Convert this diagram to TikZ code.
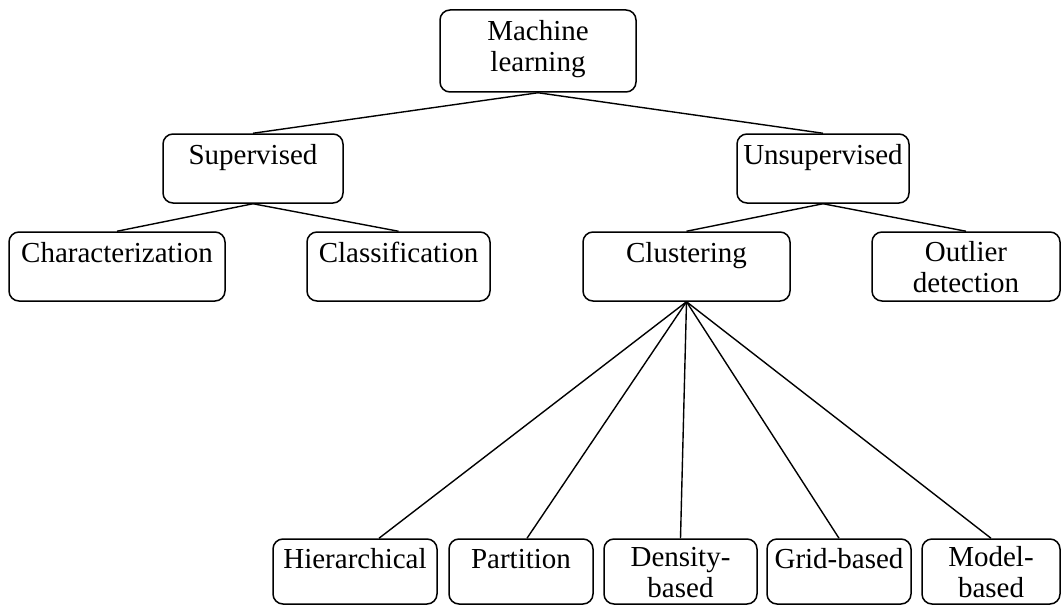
\documentclass[tikz,border=0pt]{standalone}
\usepackage{fontspec}
\setmainfont{Liberation Serif}
\usetikzlibrary{calc}
\newcommand\mybox[7]{%
  \node[box, minimum width=#4pt, minimum height=#5pt] (#1) at (#2,#3) {};
  \node[lbl] (#1t) at ([yshift=-#6pt]#1.north) {\strut #7};}
\begin{document}
\begin{tikzpicture}[x=1pt,y=-1pt,
  box/.style={draw, line width=1.5pt, rounded corners=10pt, inner sep=0pt},
  lbl/.style={anchor=north, inner sep=0pt, align=center, font=\fontsize{29}{31}\selectfont},
  conn/.style={line width=1.4pt}]
\useasboundingbox (0,0) rectangle (1062,607);
\mybox{ml}{538}{51}{196}{82}{9}{Machine\\learning}
\mybox{sup}{253}{168.5}{180}{69}{9}{Supervised}
\mybox{uns}{823}{168.5}{172}{69}{9}{Unsupervised}
\mybox{cha}{117}{266.5}{216}{69}{9}{Characterization}
\mybox{cla}{398.5}{266.5}{183}{69}{9}{Classification}
\mybox{clu}{686.5}{266.5}{207}{69}{9}{Clustering}
\mybox{out}{966}{266.5}{188}{69}{8}{Outlier\\detection}
\mybox{hie}{355}{571.5}{164}{65}{8}{Hierarchical}
\mybox{par}{521}{571.5}{144}{65}{8}{Partition}
\mybox{den}{680.5}{571.5}{153}{65}{6.5}{Density-\\based}
\mybox{gri}{839}{571.5}{144}{65}{8}{Grid-based}
\mybox{mod}{991}{571.5}{138}{65}{6.5}{Model-\\based}
\draw[conn] (ml.south) -- (sup.north);
\draw[conn] (ml.south) -- (uns.north);
\draw[conn] (sup.south) -- (cha.north);
\draw[conn] (sup.south) -- (cla.north);
\draw[conn] (uns.south) -- (clu.north);
\draw[conn] (uns.south) -- (out.north);
\draw[conn] (clu.south) -- ([xshift=24pt]hie.north);
\draw[conn] (clu.south) -- ([xshift=6pt]par.north);
\draw[conn] (clu.south) -- (den.north);
\draw[conn] (clu.south) -- (gri.north);
\draw[conn] (clu.south) -- (mod.north);
\end{tikzpicture}
\end{document}
